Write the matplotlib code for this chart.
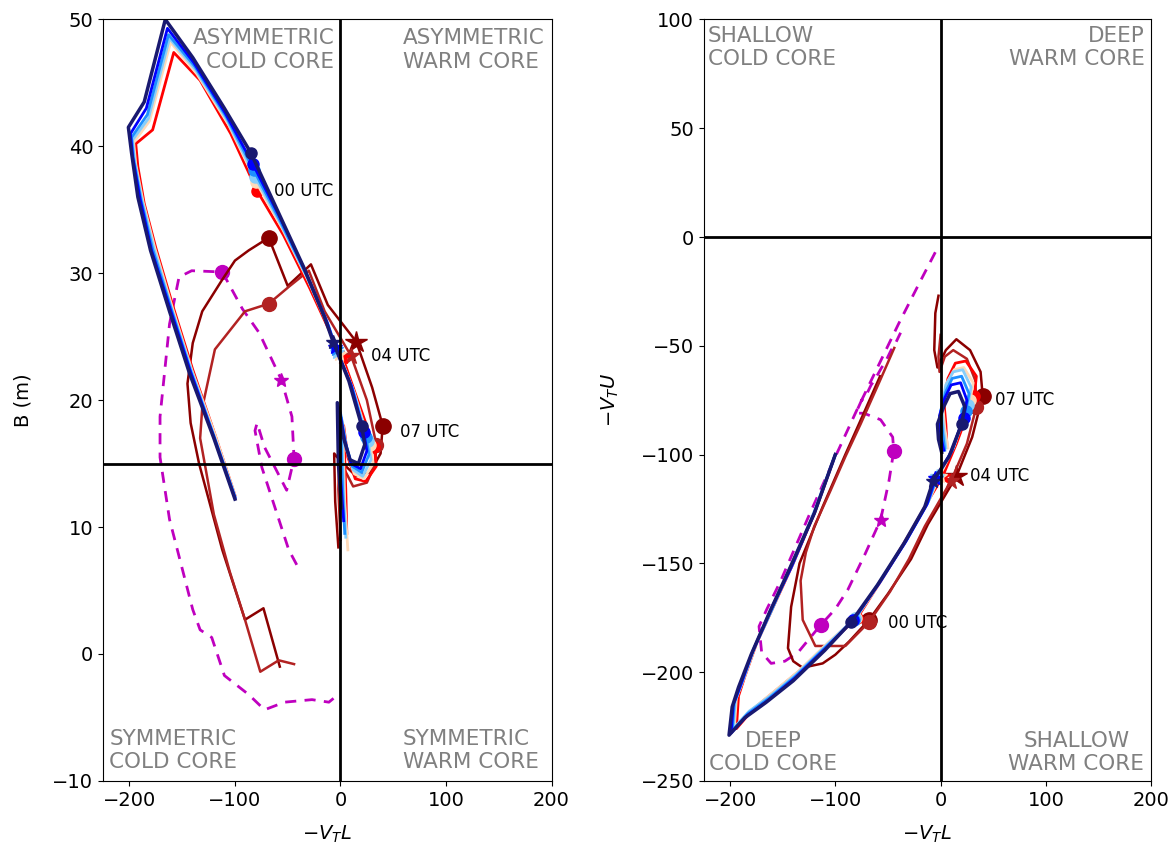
import matplotlib
matplotlib.use("Agg")
import matplotlib.pyplot as plt

# ensemble members: shared -VTL, B (left panel) and -VTU (right panel)
# index 12 -> 00 UTC, 16 -> 04 UTC, 18 -> 07 UTC
navy_x = [-100, -120, -143, -162, -180, -192, -198, -201, -186, -166, -140, -110, -85, -60, -35, -15, -7, 8, 20, 23, 17, 9, 3, -3, -2, 1]
navy_b = [12.2, 17.0, 22.1, 27.0, 31.8, 36.0, 39.5, 41.5, 43.5, 50.0, 47.0, 43.0, 39.5, 35.0, 30.5, 26.5, 24.6, 21.5, 18.0, 16.5, 15.0, 15.3, 17.0, 19.8, 15.0, 11.5]
navy_u = [-100, -127, -152, -172, -192, -207, -216, -229, -221, -214, -204, -190, -177, -160, -141, -124, -112, -101, -86, -78, -71, -72, -78, -86, -93, -99]

blue_x = [-100, -120, -142, -161, -179, -190, -197, -199, -184, -164, -139, -109, -83, -58, -33, -13, -5, 10, 22, 25, 19, 10, 4, -1, 0, 3]
blue_b = [12.3, 17.1, 22.2, 27.1, 31.8, 35.9, 39.2, 41.0, 43.0, 49.3, 46.6, 42.6, 38.6, 34.5, 30.1, 26.2, 24.2, 21.2, 17.5, 16.0, 14.6, 15.0, 16.8, 19.3, 14.0, 10.5]
blue_u = [-100, -127, -152, -171, -191, -206, -215, -228, -220, -213, -203, -189, -176, -159, -140, -123, -111, -99, -83, -75, -67, -68, -74, -82, -91, -98]

dodger_x = [-100, -120, -142, -160, -178, -189, -196, -198, -183, -163, -138, -108, -82, -57, -32, -12, -4, 11, 24, 27, 20, 11, 5, 0, 2, 4]
dodger_b = [12.4, 17.2, 22.3, 27.1, 31.9, 35.8, 39.0, 40.7, 42.5, 48.8, 46.3, 42.3, 38.1, 34.1, 29.8, 26.0, 24.0, 21.0, 17.1, 15.7, 14.3, 14.8, 16.6, 19.0, 13.0, 9.5]
dodger_u = [-100, -127, -151, -171, -190, -205, -214, -227, -219, -212, -202, -188, -176, -158, -139, -122, -111, -98, -80, -72, -64, -65, -71, -80, -90, -98]

sky_x = [-100, -120, -141, -160, -177, -188, -195, -197, -182, -162, -137, -107, -81, -56, -31, -11, -3, 12, 26, 29, 21, 12, 5, 1, 3, 5]
sky_b = [12.4, 17.2, 22.3, 27.2, 32.0, 35.7, 38.8, 40.5, 42.2, 48.5, 46.0, 42.0, 37.6, 33.8, 29.6, 25.8, 23.8, 20.8, 16.8, 15.3, 14.0, 14.5, 16.3, 18.6, 12.5, 9.2]
sky_u = [-100, -126, -151, -170, -189, -204, -213, -226, -218, -211, -201, -187, -175, -157, -138, -121, -110, -97, -77, -69, -61, -62, -68, -78, -89, -97]

peach_x = [-100, -119, -141, -159, -176, -187, -194, -196, -181, -161, -136, -106, -80, -55, -30, -10, -1, 13, 28, 31, 22, 13, 6, 2, 4, 7]
peach_b = [12.5, 17.3, 22.4, 27.2, 32.0, 35.6, 38.6, 40.3, 42.0, 48.2, 45.7, 41.7, 37.2, 33.5, 29.3, 25.5, 23.6, 20.6, 16.5, 15.0, 13.8, 14.2, 16.0, 18.3, 12.0, 8.2]
peach_u = [-100, -126, -150, -170, -188, -203, -212, -226, -218, -210, -200, -186, -175, -157, -137, -120, -110, -96, -75, -67, -60, -61, -67, -77, -88, -97]

red_x = [-100, -119, -140, -158, -175, -186, -192, -194, -178, -158, -133, -104, -79, -54, -29, -9, 2, 15, 32, 34, 24, 14, 7, 3, 5, 6]
red_b = [12.5, 17.3, 22.4, 27.2, 32.0, 35.5, 38.4, 40.2, 41.3, 47.4, 45.2, 41.0, 36.5, 33.0, 28.8, 25.2, 23.4, 20.3, 16.3, 14.8, 13.6, 13.8, 15.5, 18.0, 13.0, 9.5]
red_u = [-100, -126, -150, -169, -187, -202, -211, -226, -217, -209, -199, -186, -175, -156, -136, -119, -110, -95, -73, -64, -57, -58, -65, -75, -86, -96]

# two outlying members (00/04/07 UTC at index 12/16/18 and 11/15/17)
dred_x = [-57.5, -73, -90.5, -112, -134, -142, -145, -140, -131, -112, -100, -87, -68, -50, -28, -12, 15, 30, 40, 38, 28, 15, 5, -3, -6, -5, -2]
dred_b = [-1.0, 3.6, 2.7, 8.2, 15.0, 18.2, 21.3, 24.5, 27.0, 29.5, 31.0, 31.8, 32.8, 29.0, 30.7, 27.5, 24.6, 21.0, 18.0, 15.8, 14.3, 14.0, 14.8, 15.5, 15.8, 12.0, 8.4]
dred_u = [-64, -81, -100, -124, -150, -170, -189, -195, -198, -196, -192, -186, -176, -164, -148, -132, -110, -92, -73, -62, -52, -47, -52, -60, -52, -35, -27]

fire_x = [-44, -58.5, -76, -90.5, -105, -120, -128, -133, -131, -119, -90.5, -68, -48, -30, -15, 10, 25, 34, 33, 25, 12, 4, -1, -2, 0]
fire_b = [-0.8, -0.5, -1.4, 2.7, 6.5, 11.0, 14.7, 17.0, 19.4, 24.0, 27.0, 27.6, 29.0, 30.2, 27.0, 23.5, 20.0, 16.5, 15.0, 13.5, 13.2, 14.5, 16.0, 13.0, 9.0]
fire_u = [-51, -67, -86, -101, -117, -133, -145, -158, -176, -188, -188, -177, -163, -148, -133, -112, -95, -78, -66, -56, -52, -55, -62, -55, -45]

# analysis track (dashed magenta)
obs_lx = [-6.6, -11, -27, -53, -72, -87, -110, -122, -133, -140, -162, -171, -171, -162, -153, -141, -112, -93, -77, -56, -46, -44, -51, -72, -79, -81, -74.5, -49, -40]
obs_lb = [-3.5, -3.8, -3.6, -3.8, -4.4, -3.2, -1.7, 1.3, 1.9, 3.5, 10.6, 15.5, 18.7, 26.0, 29.7, 30.2, 30.1, 27.2, 25.3, 21.6, 18.7, 15.4, 12.9, 16.3, 18.2, 17.6, 14.7, 8.2, 6.8]
obs_rx = [-5, -20, -40, -60, -80, -100, -125, -151.6, -165, -172.5, -170, -161, -148, -135.5, -114, -100, -88, -72, -57, -49, -44.5, -45.5, -57, -73, -80.6, -75, -72, -66, -63, -56, -53, -47, -44, -38]
obs_ru = [-7, -21, -40, -60, -80, -101, -128, -157.7, -171, -179, -191, -196, -195, -191, -178.4, -171, -162, -146, -130, -112, -98.4, -92, -84, -81, -81, -75, -74, -68, -66, -60, -58, -52, -50, -44]

members = [
    ("darkred", dred_x, dred_b, dred_u, (12, 16, 18), 1.8, 11, 16),
    ("firebrick", fire_x, fire_b, fire_u, (11, 15, 17), 1.8, 10, 12),
    ("red", red_x, red_b, red_u, (12, 16, 18), 2.0, 8, 10),
    ("peachpuff", peach_x, peach_b, peach_u, (12, 16, 18), 2.0, 8, 10),
    ("lightskyblue", sky_x, sky_b, sky_u, (12, 16, 18), 2.0, 8, 10),
    ("dodgerblue", dodger_x, dodger_b, dodger_u, (12, 16, 18), 2.0, 8, 10),
    ("blue", blue_x, blue_b, blue_u, (12, 16, 18), 2.0, 8, 10),
    ("midnightblue", navy_x, navy_b, navy_u, (12, 16, 18), 2.5, 8, 10),
]

fig = plt.figure(figsize=(11.71, 8.46), dpi=100)
ax1 = fig.add_axes([0.088, 0.077, 0.383, 0.900])
ax2 = fig.add_axes([0.601, 0.077, 0.382, 0.900])

# analysis track first, members on top
ax1.plot(obs_lx, obs_lb, "--", color="m", lw=2, dashes=(4, 3))
ax2.plot(obs_rx, obs_ru, "--", color="m", lw=2, dashes=(4, 3))
ax1.plot(obs_lx[16], obs_lb[16], "o", color="m", ms=10)
ax1.plot(obs_lx[21], obs_lb[21], "o", color="m", ms=10)
ax1.plot(obs_lx[19], obs_lb[19], "*", color="m", ms=10)
ax2.plot(obs_rx[14], obs_ru[14], "o", color="m", ms=10)
ax2.plot(obs_rx[20], obs_ru[20], "o", color="m", ms=10)
ax2.plot(obs_rx[18], obs_ru[18], "*", color="m", ms=10)

for c, x, b, u, (i0, i4, i7), lw, mo, ms in members:
    for ax, y in ((ax1, b), (ax2, u)):
        ax.plot(x, y, color=c, lw=lw)
        ax.plot(x[i0], y[i0], "o", color=c, ms=mo)
        ax.plot(x[i4], y[i4], "*", color=c, ms=ms)
        ax.plot(x[i7], y[i7], "o", color=c, ms=mo)

# quadrant lines
ax1.axvline(0, color="k", lw=2)
ax1.axhline(15, color="k", lw=2)
ax2.axvline(0, color="k", lw=2)
ax2.axhline(0, color="k", lw=2)

ax1.set_xlim(-225, 200)
ax1.set_ylim(-10, 50)
ax2.set_xlim(-225, 200)
ax2.set_ylim(-250, 100)
ax1.set_xticks([-200, -100, 0, 100, 200])
ax2.set_xticks([-200, -100, 0, 100, 200])

ax1.set_xlabel(r"$-V_TL$", fontsize=14, labelpad=10)
ax1.set_ylabel("B (m)", fontsize=14, labelpad=14)
ax2.set_xlabel(r"$-V_TL$", fontsize=14, labelpad=10)
ax2.set_ylabel(r"$-V_TU$", fontsize=14, labelpad=14)
for ax in (ax1, ax2):
    ax.tick_params(labelsize=14)

# time labels
tk = dict(fontsize=12, va="center", ha="left")
ax1.text(-63, 36.5, "00 UTC", **tk)
ax1.text(29, 23.5, "04 UTC", **tk)
ax1.text(56, 17.5, "07 UTC", **tk)
ax2.text(52, -75, "07 UTC", **tk)
ax2.text(28, -110, "04 UTC", **tk)
ax2.text(-50, -177.5, "00 UTC", **tk)

# quadrant names
qk = dict(fontsize=15.5, color="gray")
ax1.text(-6, 49.3, "ASYMMETRIC\nCOLD CORE", ha="right", va="top", multialignment="right", **qk)
ax1.text(59, 49.3, "ASYMMETRIC\nWARM CORE", ha="left", va="top", **qk)
ax1.text(-219, -9.3, "SYMMETRIC\nCOLD CORE", ha="left", va="bottom", **qk)
ax1.text(59, -9.3, "SYMMETRIC\nWARM CORE", ha="left", va="bottom", **qk)
ax2.text(-221, 97, "SHALLOW\nCOLD CORE", ha="left", va="top", **qk)
ax2.text(194, 97, "DEEP\nWARM CORE", ha="right", va="top", multialignment="right", **qk)
ax2.text(-159, -247, "DEEP\nCOLD CORE", ha="center", va="bottom", multialignment="center", **qk)
ax2.text(129, -247, "SHALLOW\nWARM CORE", ha="center", va="bottom", multialignment="center", **qk)

fig.savefig("out.png", dpi=100)
